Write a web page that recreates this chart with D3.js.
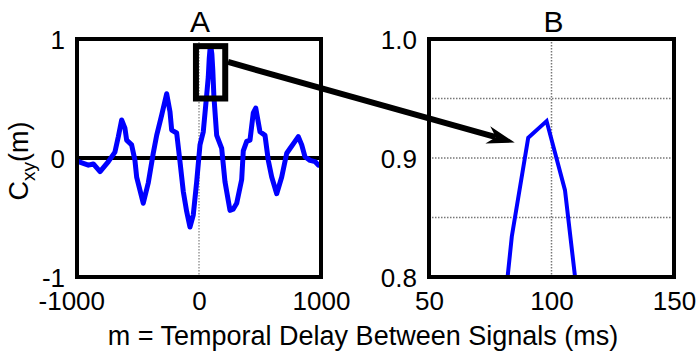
<!DOCTYPE html>
<html>
<head>
    <meta charset="utf-8">
    <title>Cross-correlation</title>
    <script type="text/javascript" src="https://cdn.jsdelivr.net/npm/d3@7/dist/d3.min.js"></script>
    <style>
        body { margin: 0; background: #fff; }
        svg { display: block; }
        text { font-family: "Liberation Sans", Arial, sans-serif; fill: #000; }
    </style>
</head>

<body>

<script type="text/javascript">
// lag (ms) and normalised cross-correlation
var lagMs = [-1000, -989, -907, -866, -811, -743, -689, -661, -634, -607, -593, -552,
    -525, -511, -457, -416, -375, -347, -306, -265, -238, -224, -183, -156, -129, -101,
    -74, -47, -19, 8, 35, 63, 76, 83.8, 90.5, 98, 105.5, 113, 122, 145, 186, 213, 254,
    280, 309, 350, 363, 391, 418, 445, 465, 500, 541, 568, 596, 637, 678, 719, 746, 787,
    814, 842, 869, 910, 951, 978, 1000];
var cxy = [-0.02, -0.03, -0.06, -0.05, -0.115, -0.03, 0.05, 0.18, 0.32, 0.25, 0.15, 0.11,
    -0.02, -0.16, -0.38, -0.21, 0.04, 0.19, 0.36, 0.54, 0.39, 0.235, 0.21, -0.03, -0.28, -0.45,
    -0.58, -0.48, -0.2, 0.11, 0.22, 0.53, 0.68, 0.834, 0.917, 0.931, 0.873, 0.74, 0.52, 0.19, 0.08, -0.2, -0.44,
    -0.43, -0.38, -0.18, 0.06, 0.14, 0.15, 0.38, 0.42, 0.22, 0.19, -0.02, -0.16, -0.30, -0.16, 0.04, 0.08, 0.14,
    0.18, 0.11, 0.01, -0.02, -0.03, -0.06, -0.05];

var xTicksA = [-1000, 0, 1000];
var yTicksA = [-1, 0, 1];
var xTicksB = [50, 100, 150];
var yTicksB = [0.8, 0.9, 1.0];
var gridXB = [100];
var gridYB = [0.85, 0.9, 0.95];
var titles = ["A", "B"];

// zoomed region marked on panel A, and where the arrow goes
var zoomBox = {x0: -25, x1: 215, y0: 0.5, y1: 0.94};
var arrowFrom = {x: 238, y: 0.807}, arrowTo = {x: 85, y: 0.913};

var width = 699, height = 354;
var panelA = {left: 77, right: 321, top: 39, bottom: 277},
    panelB = {left: 429, right: 674, top: 39, bottom: 277};

var data = lagMs.map(function (d, i) {
    return {lag: d, c: cxy[i]};
});

var xA = d3.scaleLinear().domain([-1000, 1000]).range([panelA.left, panelA.right]),
    yA = d3.scaleLinear().domain([-1, 1]).range([panelA.bottom, panelA.top]),
    xB = d3.scaleLinear().domain([50, 150]).range([panelB.left, panelB.right]),
    yB = d3.scaleLinear().domain([0.8, 1.0]).range([panelB.bottom, panelB.top]);

var svg = d3.select("body").append("svg")
        .attr("width", width)
        .attr("height", height);

svg.append("defs")
        .append("clipPath")
        .attr("id", "clip-b")
        .append("rect")
        .attr("x", panelB.left)
        .attr("y", panelB.top)
        .attr("width", panelB.right - panelB.left)
        .attr("height", panelB.bottom - panelB.top);

// plain hyphen for negatives, like the original
function plain(d) {
    return String(d);
}

function renderAxes(g, x, y, xTicks, yTicks, fmtY) {
    var xAxis = d3.axisBottom(x).tickValues(xTicks).tickSize(0).tickPadding(0)
            .tickFormat(plain);
    var yAxis = d3.axisLeft(y).tickValues(yTicks).tickSize(0).tickPadding(0)
            .tickFormat(fmtY);

    var xg = g.append("g")
            .attr("transform", "translate(0," + y.range()[0] + ")")
            .call(xAxis);
    xg.select(".domain").remove();
    xg.selectAll("text")
            .attr("y", 33)
            .attr("dy", 0)
            .attr("dx", function (d) { return d < 0 ? "-0.22em" : 0; })
            .style("font-size", "26px")
            .style("font-family", "'Liberation Sans', Arial, sans-serif");

    var yg = g.append("g")
            .attr("transform", "translate(" + x.range()[0] + ",0)")
            .call(yAxis);
    yg.select(".domain").remove();
    yg.selectAll("text")
            .attr("x", -12)
            .attr("dy", "0.35em")
            .style("font-size", "26px")
            .style("font-family", "'Liberation Sans', Arial, sans-serif");
}

function dotted(g, x1, y1, x2, y2, colour) {
    g.append("line")
            .attr("x1", x1).attr("y1", y1)
            .attr("x2", x2).attr("y2", y2)
            .style("stroke", colour)
            .style("stroke-width", 1.5)
            .style("stroke-dasharray", "1.5,1.5");
}

function frame(g, p) {
    g.append("rect")
            .attr("x", p.left).attr("y", p.top)
            .attr("width", p.right - p.left)
            .attr("height", p.bottom - p.top)
            .style("fill", "none")
            .style("stroke", "#000")
            .style("stroke-width", 4);
}

// panel A
var gA = svg.append("g").attr("class", "panel-a");

dotted(gA, xA(0), panelA.top, xA(0), panelA.bottom, "#999");

gA.append("line")
        .attr("x1", panelA.left).attr("x2", panelA.right)
        .attr("y1", yA(0)).attr("y2", yA(0))
        .style("stroke", "#000")
        .style("stroke-width", 4);

var lineA = d3.line()
        .x(function (d) { return xA(d.lag); })
        .y(function (d) { return yA(d.c); });

gA.append("path")
        .datum(data)
        .attr("d", lineA)
        .style("fill", "none")
        .style("stroke", "#0000ff")
        .style("stroke-width", 5)
        .style("stroke-linejoin", "round");

frame(gA, panelA);
renderAxes(gA, xA, yA, xTicksA, yTicksA, plain);

// panel B
var gB = svg.append("g").attr("class", "panel-b");

gridXB.forEach(function (v) {
    dotted(gB, xB(v), panelB.top, xB(v), panelB.bottom, "#777");
});
gridYB.forEach(function (v) {
    dotted(gB, panelB.left, yB(v), panelB.right, yB(v), "#777");
});

var lineB = d3.line()
        .x(function (d) { return xB(d.lag); })
        .y(function (d) { return yB(d.c); });

gB.append("path")
        .datum(data)
        .attr("clip-path", "url(#clip-b)")
        .attr("d", lineB)
        .style("fill", "none")
        .style("stroke", "#0000ff")
        .style("stroke-width", 4)
        .style("stroke-linejoin", "miter");

frame(gB, panelB);
renderAxes(gB, xB, yB, xTicksB, yTicksB, d3.format(".1f"));

// titles
svg.selectAll("text.title")
        .data(titles)
        .enter()
        .append("text")
        .attr("class", "title")
        .attr("x", function (d, i) { return i === 0 ? xA(0) + 1 : xB(100) + 2; })
        .attr("y", 32)
        .attr("text-anchor", "middle")
        .style("font-size", "30px")
        .text(function (d) { return d; });

// zoom box and arrow
svg.append("rect")
        .attr("x", xA(zoomBox.x0))
        .attr("y", yA(zoomBox.y1))
        .attr("width", xA(zoomBox.x1) - xA(zoomBox.x0))
        .attr("height", yA(zoomBox.y0) - yA(zoomBox.y1))
        .style("fill", "none")
        .style("stroke", "#000")
        .style("stroke-width", 6);

var p0 = [xA(arrowFrom.x), yA(arrowFrom.y)],
    p1 = [xB(arrowTo.x), yB(arrowTo.y)];
var ang = Math.atan2(p1[1] - p0[1], p1[0] - p0[0]),
    ux = Math.cos(ang), uy = Math.sin(ang),
    nx = -uy, ny = ux,
    headLen = 28, headW = 9;
var notch = [p1[0] - 0.7 * headLen * ux, p1[1] - 0.7 * headLen * uy];

svg.append("line")
        .attr("x1", p0[0]).attr("y1", p0[1])
        .attr("x2", notch[0]).attr("y2", notch[1])
        .style("stroke", "#000")
        .style("stroke-width", 6);

svg.append("path")
        .attr("d", "M" + p1[0] + "," + p1[1]
                + "L" + (p1[0] - headLen * ux + headW * nx) + "," + (p1[1] - headLen * uy + headW * ny)
                + "L" + notch[0] + "," + notch[1]
                + "L" + (p1[0] - headLen * ux - headW * nx) + "," + (p1[1] - headLen * uy - headW * ny)
                + "Z")
        .style("fill", "#000");

// axis labels
svg.append("text")
        .attr("x", 363)
        .attr("y", 345)
        .attr("text-anchor", "middle")
        .style("font-size", "27px")
        .text("m = Temporal Delay Between Signals (ms)");

var yl = svg.append("text")
        .attr("transform", "translate(28,161) rotate(-90)")
        .attr("text-anchor", "middle")
        .style("font-size", "27px");
yl.append("tspan").text("C");
yl.append("tspan").attr("dy", 7).style("font-size", "19px").text("xy");
yl.append("tspan").attr("dy", -7).text("(m)");
</script>

</body>

</html>
